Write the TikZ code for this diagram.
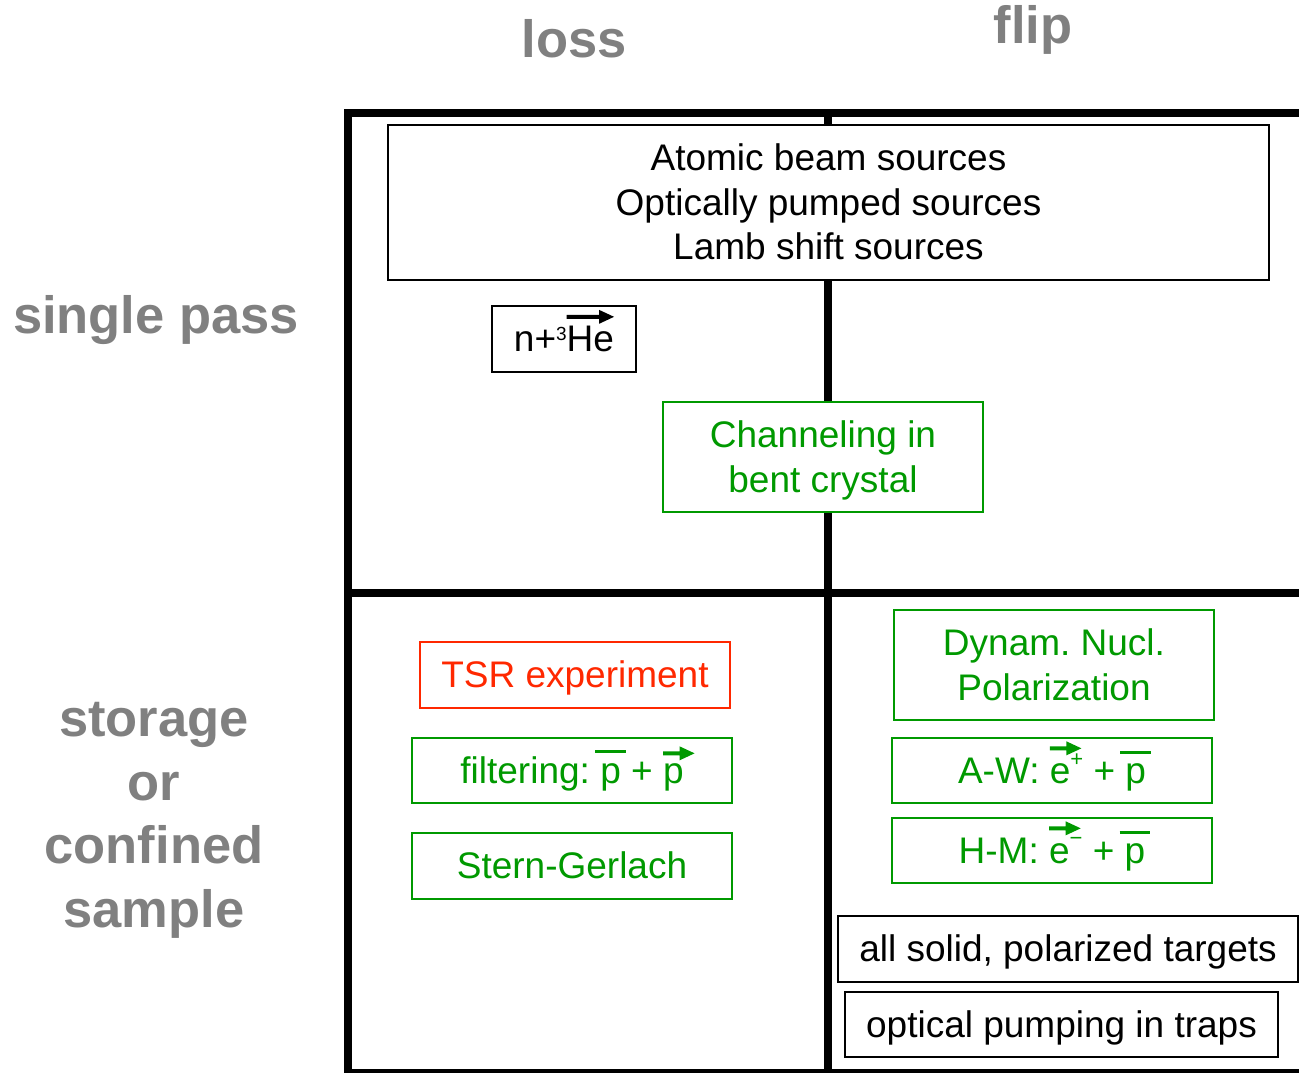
\documentclass[tikz,border=0pt]{standalone}
\usepackage{fontspec}
\setmainfont{Liberation Sans}
\frenchspacing
\definecolor{lblgray}{RGB}{128,128,128}
\definecolor{grn}{RGB}{0,153,0}
\definecolor{tsrred}{RGB}{255,40,0}
\newcommand{\boxfont}{\fontsize{37}{44.5}\selectfont}
\newcommand{\lblfont}{\bfseries\fontsize{52.5}{63.5}\selectfont}
\newcommand{\ps}{\rule[-0.212em]{0pt}{1.117em}}
\newsavebox\arrbox
\newlength\arrlen
% #1 colour, #2 extra length, #3 raise, #4 text
\newcommand{\arrover}[4]{\leavevmode\sbox\arrbox{#4}\setlength\arrlen{\wd\arrbox}\addtolength\arrlen{#2}%
  \rlap{\smash{\raisebox{#3}{\tikz[baseline=0pt]\fill[#1] (0pt,-2pt) -- (\arrlen-15pt,-2pt) -- (\arrlen-15pt,-7pt) -- (\arrlen,0pt) -- (\arrlen-15pt,7pt) -- (\arrlen-15pt,2pt) -- (0pt,2pt) -- cycle;}}}\usebox\arrbox}
% #1 left kern, #2 extra width, #3 raise, #4 text
\newcommand{\ovl}[4]{\leavevmode\sbox\arrbox{#4}\setlength\arrlen{\wd\arrbox}\addtolength\arrlen{#2}%
  \rlap{\kern#1\smash{\rule[#3]{\arrlen}{3.5pt}}}\usebox\arrbox}
% #1 raise, #2 size, #3 text
\newcommand{\sups}[3]{\raisebox{#1}{\fontsize{#2}{#2}\selectfont #3}}
\tikzset{
  gridline/.style={line width=8pt, line join=miter, line cap=rect},
  tbox/.style={draw, line width=2pt, fill=white, inner sep=0pt, align=center, font=\boxfont},
  blackbox/.style={tbox, draw=black, text=black},
  greenbox/.style={tbox, draw=grn, text=grn},
  redbox/.style={tbox, draw=tsrred, text=tsrred},
  lbl/.style={text=lblgray, font=\lblfont, inner sep=0pt, align=center}
}
\begin{document}
\begin{tikzpicture}[x=1pt,y=-1pt]
\useasboundingbox (0,0) rectangle (1299,1072);
% grid
\draw[gridline] (1310,113) -- (348,113) -- (348,1080);
\draw[gridline] (828,113) -- (828,1080);
\draw[gridline] (348,593) -- (1310,593);
\draw[gridline] (348,1073) -- (1310,1073);
% header labels
\node[lbl, anchor=base] (loss) at (574,57) {loss};
\node[lbl, anchor=base] (flip) at (1033,43) {flip};
\node[lbl, anchor=base] (single) at (156,333) {single pass};
\node[lbl] (storage) at (154,814) {\ps storage\\ \ps or\\ \ps confined\\ \ps sample};
% boxes
\node[blackbox, minimum width=881, minimum height=155] (atomic) at (828.5,202.5)
  {\ps Atomic beam sources\\ \ps Optically pumped sources\\ \ps Lamb shift sources};
\node[blackbox, minimum width=144, minimum height=66] (he) at (564,339)
  {\ps n+\sups{11pt}{19}{3}\arrover{black}{0pt}{35pt}{He}};
\node[greenbox, minimum width=320, minimum height=110] (chan) at (823,457)
  {\ps Channeling in\\ \ps bent crystal};
\node[redbox, minimum width=310, minimum height=66] (tsr) at (575,675)
  {\ps TSR experiment};
\node[greenbox, minimum width=320, minimum height=65] (filt) at (572,770.5)
  {\ps filtering: \ovl{-5pt}{10pt}{30pt}{p} + \arrover{grn}{11pt}{30pt}{p}};
\node[greenbox, minimum width=320, minimum height=66] (stern) at (572,866)
  {\ps Stern-Gerlach};
\node[greenbox, minimum width=320, minimum height=110] (dnp) at (1054,665)
  {\ps Dynam. Nucl.\\ \ps Polarization};
\node[greenbox, minimum width=320, minimum height=65] (aw) at (1052,770.5)
  {\ps A-W: \arrover{grn}{11pt}{35pt}{e}\sups{17pt}{22}{+} + \ovl{-5pt}{10pt}{29pt}{p}};
\node[greenbox, minimum width=320, minimum height=65] (hm) at (1052,850.5)
  {\ps H-M: \arrover{grn}{11pt}{35pt}{e}\sups{18pt}{22}{−} + \ovl{-5pt}{10pt}{29pt}{p}};
\node[blackbox, minimum width=460, minimum height=66] (solid) at (1068,949)
  {\ps all solid, polarized targets};
\node[blackbox, minimum width=433, minimum height=65] (optical) at (1061.5,1024.5)
  {\ps optical pumping in traps};
\end{tikzpicture}
\end{document}
